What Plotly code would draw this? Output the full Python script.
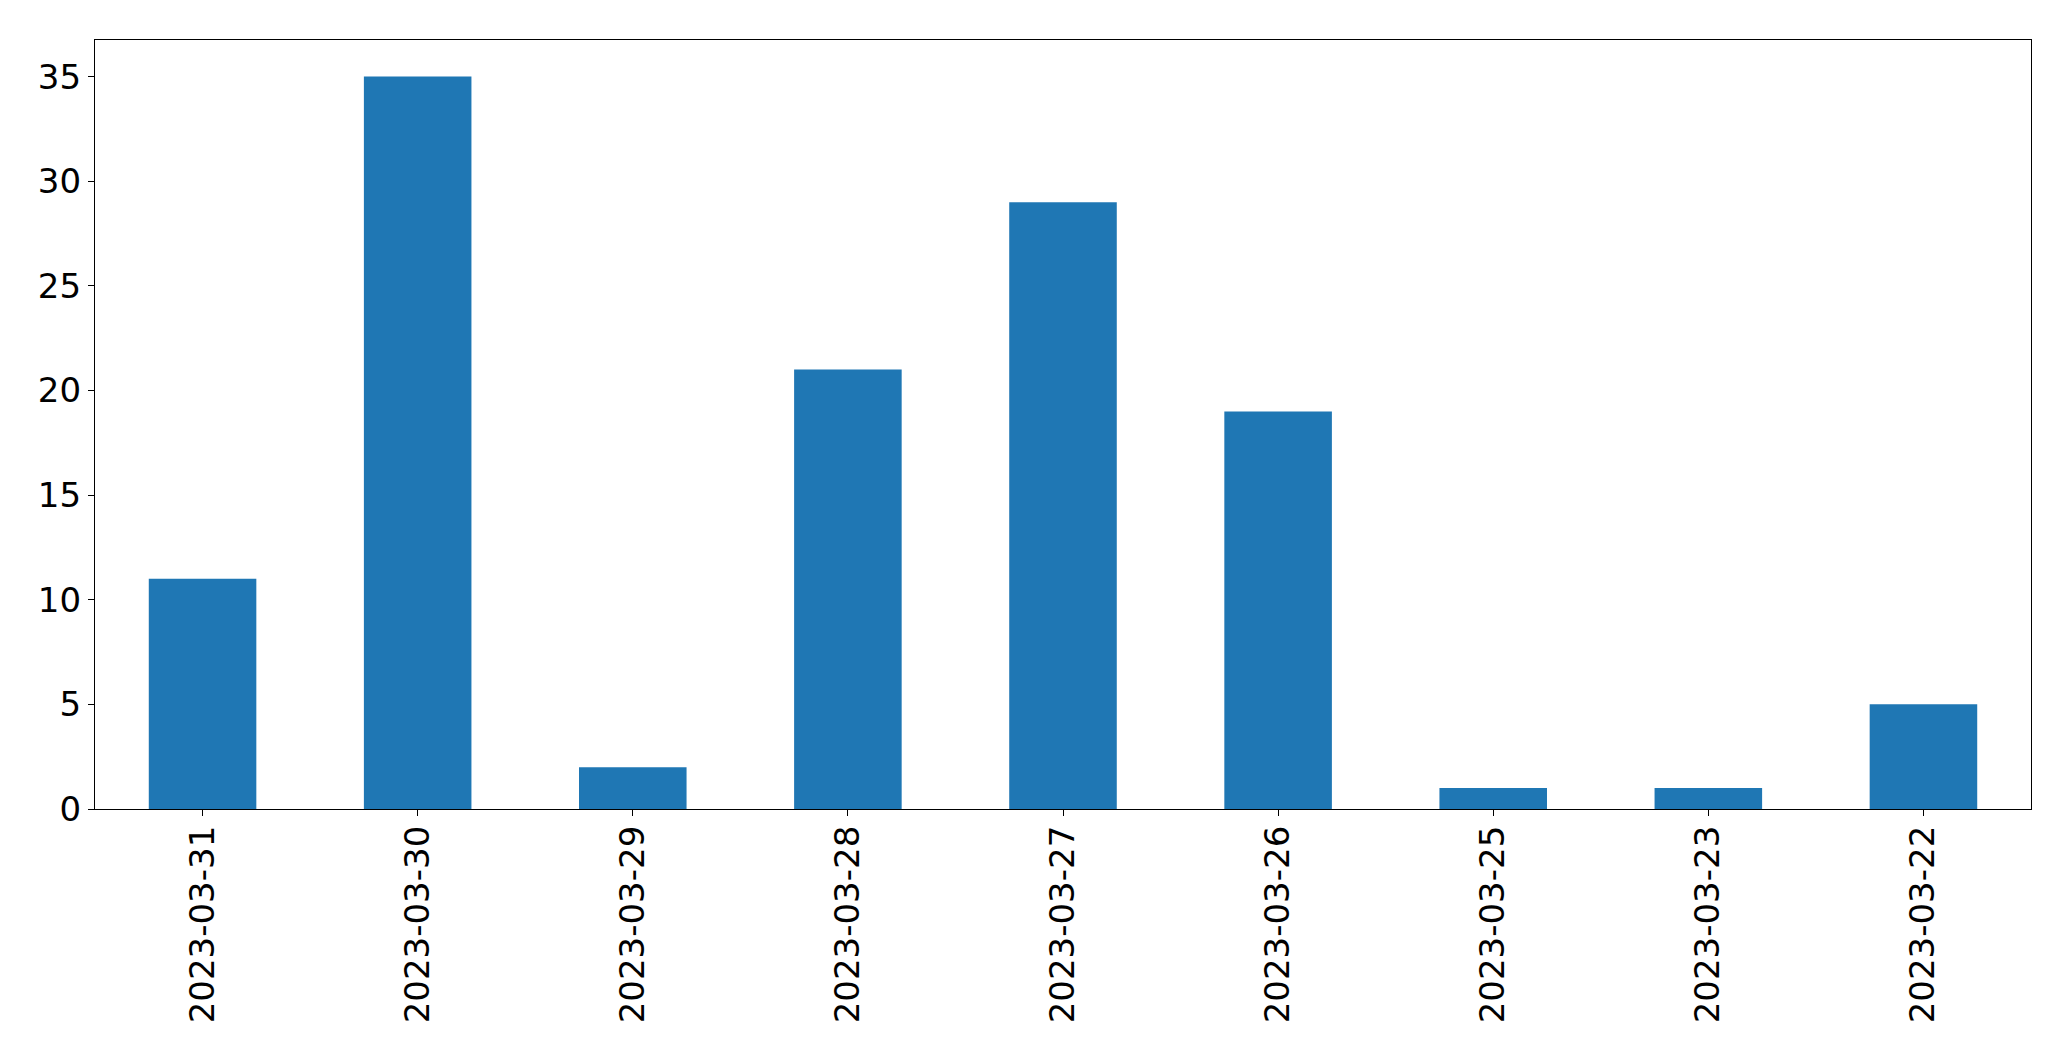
import plotly.graph_objects as go

dates = ["2023-03-31", "2023-03-30", "2023-03-29", "2023-03-28", "2023-03-27",
         "2023-03-26", "2023-03-25", "2023-03-23", "2023-03-22"]
counts = [11, 35, 2, 21, 29, 19, 1, 1, 5]
y_ticks = [0, 5, 10, 15, 20, 25, 30, 35]

fig = go.Figure(go.Bar(x=dates, y=counts, marker=dict(color="#1f77b4", line=dict(width=0)), width=0.5))

# page body has an 8px default margin; compensate so plot area lands where the reference has it
fig.update_layout(
    width=2063, height=1053,
    margin=dict(l=87, r=40, t=32, b=252, pad=0),
    paper_bgcolor="white", plot_bgcolor="white",
    font=dict(family="DejaVu Sans", size=34, color="black"),
    showlegend=False,
    bargap=0.5,
)
fig.update_xaxes(
    type="category", range=[-0.5, 8.5],
    tickangle=-90, ticks="outside", ticklen=6, tickwidth=1.3, tickcolor="black",
    showline=True, linecolor="black", linewidth=1.3, mirror=True,
    showgrid=False, zeroline=False, automargin=False, ticklabelstandoff=-4,
)
fig.update_yaxes(
    range=[0, 36.75], tickvals=y_ticks, ticktext=[str(v) for v in y_ticks],
    ticks="outside", ticklen=6, tickwidth=1.3, tickcolor="black",
    showline=True, linecolor="black", linewidth=1.3, mirror=True,
    showgrid=False, zeroline=False, automargin=False,
)
fig.write_html("out.html")
